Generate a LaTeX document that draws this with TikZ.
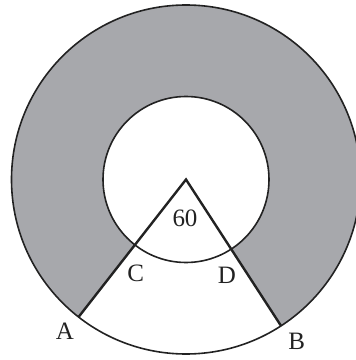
\documentclass[tikz,border=0pt]{standalone}
\usepackage{xcolor}
\usepackage{tikz}
\usepackage{fontspec}
\setmainfont{Liberation Serif}
\definecolor{ringgray}{HTML}{A7A8AC}
\definecolor{inkdark}{HTML}{222222}

\begin{document}
\begin{tikzpicture}[x=1pt,y=1pt,
    ptlabel/.style={font=\fontsize{25}{29}\selectfont,text=inkdark,inner sep=0pt}]
  \useasboundingbox (0,0) rectangle (356,360);
  \clip (0,0) rectangle (356,360);
  \coordinate (O) at (186,180.5);
  \coordinate (A) at ([shift={(232:174.5)}]O);
  \coordinate (B) at ([shift={(303:174.5)}]O);
  \coordinate (C) at ([shift={(232:83)}]O);
  \coordinate (D) at ([shift={(303:83)}]O);
  % shaded ring outside the sector
  \fill[ringgray] (A) arc[start angle=232,end angle=-57,radius=174.5]
    -- (D) arc[start angle=-57,end angle=232,radius=83] -- cycle;
  \draw[inkdark,line width=1.6pt] (O) circle[radius=174.5];
  \draw[inkdark,line width=1.6pt] (O) circle[radius=83];
  \draw[inkdark,line width=2.4pt,line join=miter] (A) -- (O) -- (B);
  \node[ptlabel] (angle) at (185,142) {60};
  \node[ptlabel] (labC) at (135.7,86.7) {C};
  \node[ptlabel] (labD) at (227,85) {D};
  \node[ptlabel] (labA) at (65,28.3) {A};
  \node[ptlabel] (labB) at (296.7,18.3) {B};
\end{tikzpicture}
\end{document}
